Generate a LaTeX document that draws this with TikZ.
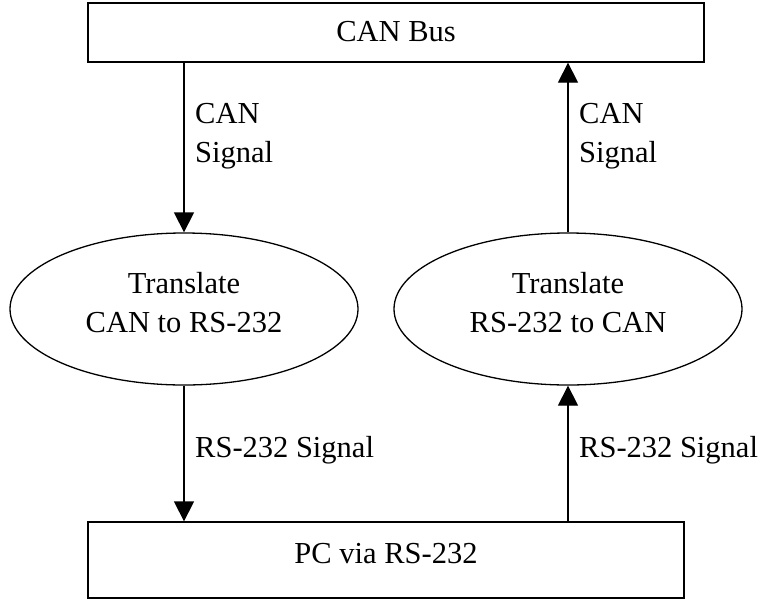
\documentclass[tikz,border=0pt]{standalone}
\usepackage{fontspec}
\setmainfont{Liberation Serif}
\usetikzlibrary{shapes.geometric,arrows.meta}

\begin{document}
\begin{tikzpicture}[x=1pt,y=-1pt,
  every node/.style={font=\fontsize{30.5}{39}\selectfont},
  box/.style={draw, line width=1.3pt, rectangle, inner sep=0pt},
  proc/.style={draw, line width=1.3pt, ellipse, inner sep=0pt,
    minimum width=348pt, minimum height=152pt, align=center, text depth=14pt},
  lab/.style={inner sep=0pt, anchor=north west, align=left},
  flow/.style={line width=1.3pt, -{Triangle[width=20pt,length=20pt]}}
]
\fill[white] (0,0) rectangle (768,600);
\useasboundingbox (0,0) rectangle (768,600);

% the two end points of the link
\node[box, minimum width=616pt, minimum height=59pt, text depth=2pt] (bus) at (396,32.5) {CAN Bus};
\node[box, minimum width=596pt, minimum height=76pt, text depth=13pt] (pc) at (386,560) {PC via RS-232};

% the two translators
\node[proc] (toserial) at (184,309) {Translate\\CAN to RS-232};
\node[proc] (tocan) at (568,309) {Translate\\RS-232 to CAN};

% data flow
\draw[flow] (bus.south -| toserial.north) -- (toserial.north);
\draw[flow] (toserial.south) -- (toserial.south |- pc.north);
\draw[flow] (pc.north -| tocan.south) -- (tocan.south);
\draw[flow] (tocan.north) -- (tocan.north |- bus.south);

% flow labels
\node[lab] (l1) at (195,103) {CAN\\Signal};
\node[lab] (l2) at (579,103) {CAN\\Signal};
\node[lab] (l3) at (195,436) {RS-232 Signal};
\node[lab] (l4) at (579,436) {RS-232 Signal};
\end{tikzpicture}
\end{document}
